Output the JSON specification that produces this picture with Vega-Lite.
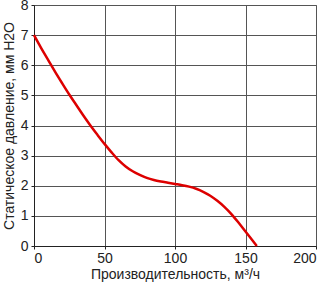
{
  "$schema": "https://vega.github.io/schema/vega-lite/v6.json",
  "autosize": "none",
  "padding": {"left": 34, "top": 5, "right": 11, "bottom": 42},
  "width": 282,
  "height": 241,
  "config": {
    "view": {"stroke": "#888888", "strokeWidth": 1},
    "font": "Liberation Sans",
    "axis": {
      "gridColor": "#555555",
      "gridOpacity": 1,
      "gridWidth": 1,
      "domainColor": "#222222",
      "tickColor": "#222222",
      "tickSize": 3,
      "labelFont": "Liberation Sans",
      "labelFontSize": 14,
      "labelColor": "#222222",
      "titleFont": "Liberation Sans",
      "titleFontSize": 14,
      "titleFontWeight": "normal",
      "titleColor": "#222222"
    }
  },
  "data": {
    "values": [
      {"q": 0, "p": 7.0},
      {"q": 5, "p": 6.58},
      {"q": 10, "p": 6.18},
      {"q": 15, "p": 5.78},
      {"q": 20, "p": 5.4},
      {"q": 25, "p": 5.03},
      {"q": 30, "p": 4.68},
      {"q": 35, "p": 4.33},
      {"q": 40, "p": 4.0},
      {"q": 45, "p": 3.69},
      {"q": 50, "p": 3.39},
      {"q": 55, "p": 3.11},
      {"q": 60, "p": 2.85},
      {"q": 65, "p": 2.64},
      {"q": 70, "p": 2.48},
      {"q": 75, "p": 2.36},
      {"q": 80, "p": 2.26},
      {"q": 85, "p": 2.19},
      {"q": 90, "p": 2.14},
      {"q": 95, "p": 2.1},
      {"q": 100, "p": 2.06},
      {"q": 105, "p": 2.02},
      {"q": 110, "p": 1.97},
      {"q": 115, "p": 1.9},
      {"q": 120, "p": 1.8},
      {"q": 125, "p": 1.67},
      {"q": 130, "p": 1.5},
      {"q": 135, "p": 1.3},
      {"q": 140, "p": 1.06},
      {"q": 145, "p": 0.78},
      {"q": 150, "p": 0.48},
      {"q": 155, "p": 0.18},
      {"q": 158, "p": 0.0}
    ]
  },
  "mark": {"type": "line", "color": "#DD0000", "strokeWidth": 2.5, "interpolate": "monotone"},
  "encoding": {
    "x": {
      "field": "q", "type": "quantitative",
      "scale": {"domain": [0, 200], "nice": false},
      "axis": {"values": [0, 50, 100, 150, 200], "title": "Производительность, м³/ч", "titlePadding": 2, "labelPadding": 2}
    },
    "y": {
      "field": "p", "type": "quantitative",
      "scale": {"domain": [0, 8], "nice": false},
      "axis": {"values": [0, 1, 2, 3, 4, 5, 6, 7, 8], "title": "Статическое давление, мм H2O", "titlePadding": 4, "labelPadding": 3}
    }
  }
}
